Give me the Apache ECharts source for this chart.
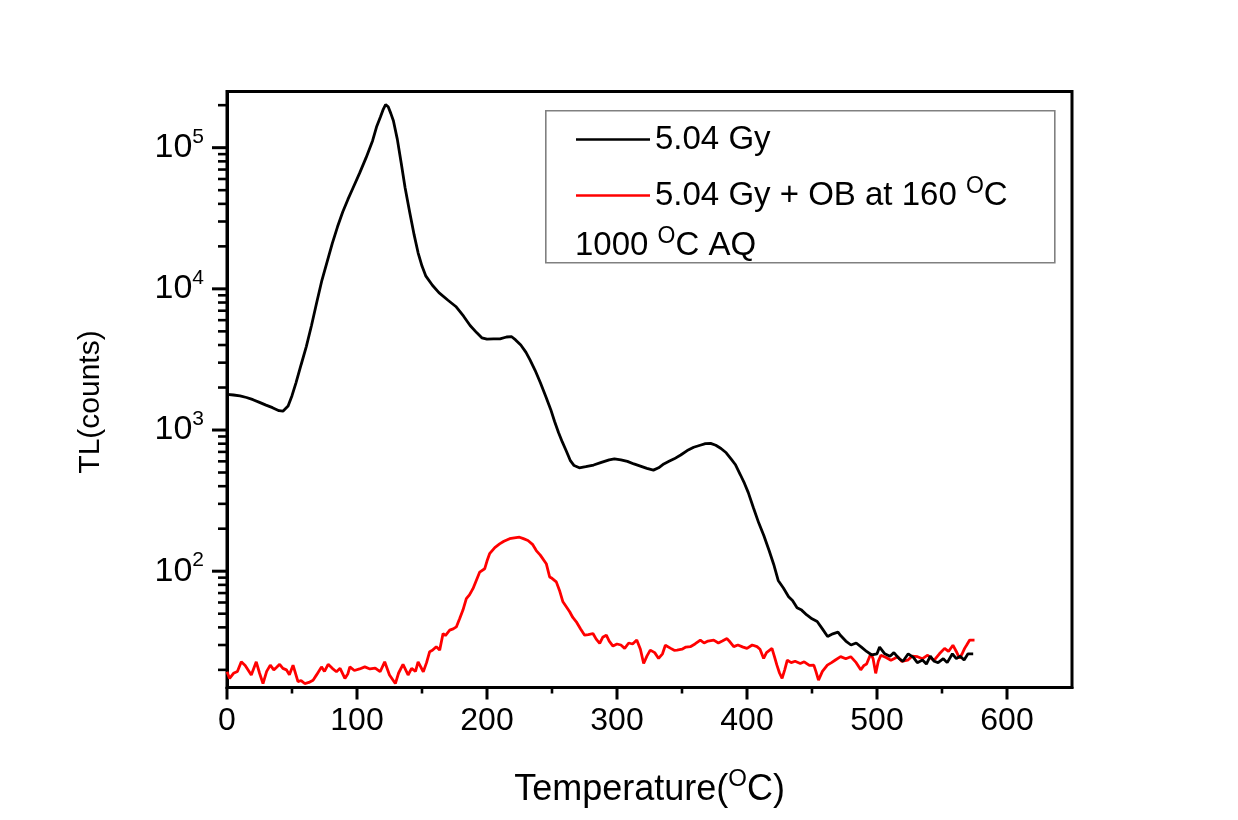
<!DOCTYPE html>
<html>
<head>
<meta charset="utf-8">
<script src="https://cdn.jsdelivr.net/npm/echarts@6/dist/echarts.min.js"></script>
<style>
html,body{margin:0;padding:0;background:#ffffff;}
#chart{width:1238px;height:820px;}
</style>
</head>
<body>
<div id="chart"></div>
<script>
// ---- data ----
var blackT = [0,5,10,15,20,25,30,35,40,43,47,50,53,57,61,65,69,73,77,81,85,89,93,97,102,107,112,115,118,120,122,124,126,128,131,134,137,140.5,144,147,150,153,158,163,170,176,182,187,192,196,200,205,210,215,219,222,226,230,233,237,241,245,249,252,255,258,261,264,267,271,276,282,288,294,298,303,308,313,318,323,328,332,336,340,344,349,354,359,364,368,372,376,380,384,388,391,395,398,401,405,409,413,417,420.5,424,428,432,435,438.5,442,446,450,454,458,462,466,470,472,476,480,484,488,492,496,500,502,506,510,513,517,520,524,528,531,535,538,541,544,547,551,554,558,561,564,567,570,574];
var blackCounts = [1790,1770,1745,1700,1640,1570,1500,1440,1370,1360,1480,1750,2150,2900,3900,5500,8000,11500,15500,21000,27500,35000,43000,52000,66000,85000,112000,140000,165000,185000,202000,195000,175000,155000,115000,78000,52000,35000,24000,18000,14500,12300,10600,9400,8300,7500,6400,5500,4900,4500,4400,4420,4420,4560,4580,4350,4000,3550,3150,2650,2170,1750,1400,1150,960,820,710,610,560,540,550,565,590,615,625,615,600,575,555,535,520,540,575,600,625,665,715,755,780,800,805,780,740,690,620,570,480,420,360,280,220,178,140,112,86,76,66,62,55,53,49,46,44,39,34.5,36,37,35,32,30,31,29,27,25.5,26,29,26,25,26.5,24,23,26,24.5,22.5,23.5,22,25,23,22.5,24,22.5,26,24,25,23.5,26,26];
var redT = [0,2,5,8,11,14,18.7,22.5,25,27.7,30.5,33.3,36,38,40.5,43,45.7,48,50.8,54.6,57,59.8,63,66.2,69,72.7,75,77.8,81,84.2,87,90.7,93,94.5,98,102,106,110,114,117.8,121.3,125,129.5,132,135.4,139.3,142,145,147,151,153.5,155.9,158,161,163.6,166.2,168,171.3,174,176.4,179,181.5,184.1,186.5,189.2,192,194.4,198.2,200,202,206,209.7,213,217.4,221,225,228,231.5,235,237.9,241,245.6,248.2,250,253.3,256,258.4,261,263.6,266,268.7,272,275.1,278,281.5,284,286.7,289,291.8,294,296.9,300,303,305.9,309,312,315.2,318,320.5,323,325.6,329,332,335,337.2,341,344,346.2,350,353,356.4,360,364.1,367,370,374.4,378,381,384.6,387,389.8,393,397,400,404,407.7,410,412.8,415,419.2,421,423,425,427,429,431,434,437,441,444,448,451.4,453,455,458,461.8,465,468,472,476,479.8,484,487.5,490,492,495.3,497,499,501,503,507,510.7,513,515.9,519,523.6,527,531.2,535,539,542,544,548,552,555,558.4,561,563.5,565.5,567.4,569,571.3,575];
var redCounts = [19.4,17.4,18.9,19.5,22.8,21.5,18.4,22.8,19,16,19.5,21.6,20,20.8,21.9,20.5,20,18.5,21.6,16.5,16.8,16,16.3,16.9,18.5,21,19.5,21.9,20.5,19.4,20.5,17.4,18.8,21,19.8,20.3,21,20.3,20.6,19.4,22.8,18.4,16,19,21.9,18.4,20.5,19.5,22.8,19.4,22.5,26.9,27.5,29.2,27.6,36.2,35,38.2,39,40.3,46.2,53,64,68,75.2,87,98.6,104,118,133,147,156,163,170,172,174,170,165,155,140,130,113,91,89,84,72,60.7,56,51.6,47,43.8,39,35.2,35.5,36.2,33,30.8,34,35.2,32,29.5,30.5,30,28.4,31,30.5,32.5,28,22.2,25,27.6,26.5,24.1,26,29.9,28.5,27.5,27.6,28,29,29.2,30.5,32.5,31,32,32.5,31,32,33.3,31.5,29.2,30,29,28.4,30,29.2,28,24.1,26.5,28.4,25,21.6,19,17.4,20,23.4,22.5,23,22.2,22.8,21.5,21.6,19.5,16.9,19.5,21.6,22.5,23.5,24.8,24,24.8,22.5,20,21.5,22,26.1,24,18.9,23,25.4,24.5,23.4,24,24.8,23,23.4,25,24.8,24,25.4,24,23.4,26,28.4,27,29.9,27,24.1,26,28.4,30,32.5,32.5];
var seriesNames = ['5.04 Gy', '5.04 Gy + OB at 160 {s|O}C'];
var noteText = '1000 {s|O}C AQ';
var xTickMajor = [0,100,200,300,400,500,600];
var xTickMinor = [50,150,250,350,450,550];
var yTickMajor = [100,1000,10000,100000];
var yTickMinor = [20,30,40,50,60,70,80,90,200,300,400,500,600,700,800,900,2000,3000,4000,5000,6000,7000,8000,9000,20000,30000,40000,50000,60000,70000,80000,90000,200000];
var xMin = 0, xMax = 650, yMin = 15, yMax = 250000;

function zip(a, b) { return a.map(function (v, i) { return [v, b[i]]; }); }

var FONT = '"Liberation Sans", Arial, Helvetica, sans-serif';

var chart = echarts.init(document.getElementById('chart'), null, {renderer: 'canvas'});

function tickRender(kind) {
  return function (params, api) {
    var v = api.value(0);
    var major = api.value(1) === 1;
    var p, shape;
    if (kind === 'y') {
      p = api.coord([xMin, v]);
      var len = major ? 15 : 9;
      shape = {x1: p[0] - len, y1: p[1], x2: p[0], y2: p[1]};
    } else {
      p = api.coord([v, yMin]);
      var lenx = major ? 12 : 6;
      shape = {x1: p[0], y1: p[1], x2: p[0], y2: p[1] + lenx};
    }
    return {type: 'line', shape: shape, style: {stroke: '#000', lineWidth: major ? 3 : 2.6}};
  };
}

var yTickData = yTickMajor.map(function (v) { return [v, 1]; }).concat(yTickMinor.map(function (v) { return [v, 0]; }));
var xTickData = xTickMajor.map(function (v) { return [v, 1]; }).concat(xTickMinor.map(function (v) { return [v, 0]; }));

var option = {
  animation: false,
  backgroundColor: '#ffffff',
  grid: {
    left: 227, top: 91.5, width: 845, height: 596,
    show: true, borderColor: '#000', borderWidth: 3, backgroundColor: 'transparent'
  },
  xAxis: {
    type: 'value', min: xMin, max: xMax, interval: 100,
    axisLine: {show: true, lineStyle: {color: '#000', width: 3}},
    axisTick: {show: false},
    splitLine: {show: false},
    axisLabel: {
      show: true, margin: 18, color: '#000', fontSize: 32, fontFamily: FONT,
      showMaxLabel: false,
      formatter: function (v) { return (v % 100 === 0) ? String(v) : ''; }
    },
    name: 'Temperature({s|O}C)',
    nameLocation: 'middle', nameGap: 80,
    nameTextStyle: {
      color: '#000', fontSize: 36, fontFamily: FONT, lineHeight: 46,
      rich: {s: {fontSize: 24, fontFamily: FONT, color: '#000', lineHeight: 24, verticalAlign: 'top'}}
    }
  },
  yAxis: {
    type: 'log', logBase: 10, min: yMin, max: yMax,
    axisLine: {show: true, lineStyle: {color: '#000', width: 3}},
    axisTick: {show: false},
    splitLine: {show: false},
    minorTick: {show: false},
    axisLabel: {
      show: true, margin: 23, color: '#000', fontFamily: FONT,
      showMinLabel: false, showMaxLabel: false,
      formatter: function (v) {
        var l = Math.log(v) / Math.LN10;
        var e = Math.round(l);
        if (Math.abs(l - e) > 1e-6) return '';
        return '{b|10}{s|' + e + '}';
      },
      rich: {
        b: {fontSize: 34, fontFamily: FONT, color: '#000', lineHeight: 42},
        s: {fontSize: 21, fontFamily: FONT, color: '#000', lineHeight: 21, verticalAlign: 'top'}
      }
    },
    name: 'TL(counts)',
    nameLocation: 'middle', nameGap: 121, nameRotate: 90,
    nameTextStyle: {color: '#000', fontSize: 30, fontFamily: FONT, padding: [0, 25, 0, 0]}
  },
  legend: {
    show: true, orient: 'vertical', left: 571, top: 114,
    data: [seriesNames[0], seriesNames[1]],
    icon: 'rect', itemWidth: 74, itemHeight: 2.5, itemGap: 15,
    selectedMode: false,
    textStyle: {
      color: '#000', fontSize: 33, fontFamily: FONT, lineHeight: 41, padding: [0, 0, 0, 0],
      rich: {s: {fontSize: 23, fontFamily: FONT, color: '#000', lineHeight: 23, verticalAlign: 'top'}}
    }
  },
  graphic: [
    {type: 'rect', left: 545, top: 110, shape: {x: 0, y: 0, width: 509, height: 152},
     style: {fill: 'rgba(0,0,0,0)', stroke: '#808080', lineWidth: 1.6}, z: 10},
    {type: 'text', x: 575, y: 246, z: 10,
     style: {text: noteText, fill: '#000', fontSize: 33, fontFamily: FONT, lineHeight: 41,
       verticalAlign: 'middle', align: 'left',
       rich: {s: {fontSize: 23, fontFamily: FONT, fill: '#000', lineHeight: 23, verticalAlign: 'top'}}}}
  ],
  series: [
    {
      name: seriesNames[0], type: 'line', data: zip(blackT, blackCounts),
      showSymbol: false, symbol: 'none', smooth: false,
      lineStyle: {color: '#000', width: 2.8}, itemStyle: {color: '#000'}, z: 3
    },
    {
      name: seriesNames[1], type: 'line', data: zip(redT, redCounts),
      showSymbol: false, symbol: 'none', smooth: false,
      lineStyle: {color: '#ff0000', width: 2.8}, itemStyle: {color: '#ff0000'}, z: 2
    },
    {
      name: 'yTicks', type: 'custom', data: yTickData, clip: false, silent: true,
      renderItem: tickRender('y'), z: 5
    },
    {
      name: 'xTicks', type: 'custom', data: xTickData, clip: false, silent: true,
      renderItem: tickRender('x'), z: 5
    }
  ]
};
chart.setOption(option);
</script>
</body>
</html>
